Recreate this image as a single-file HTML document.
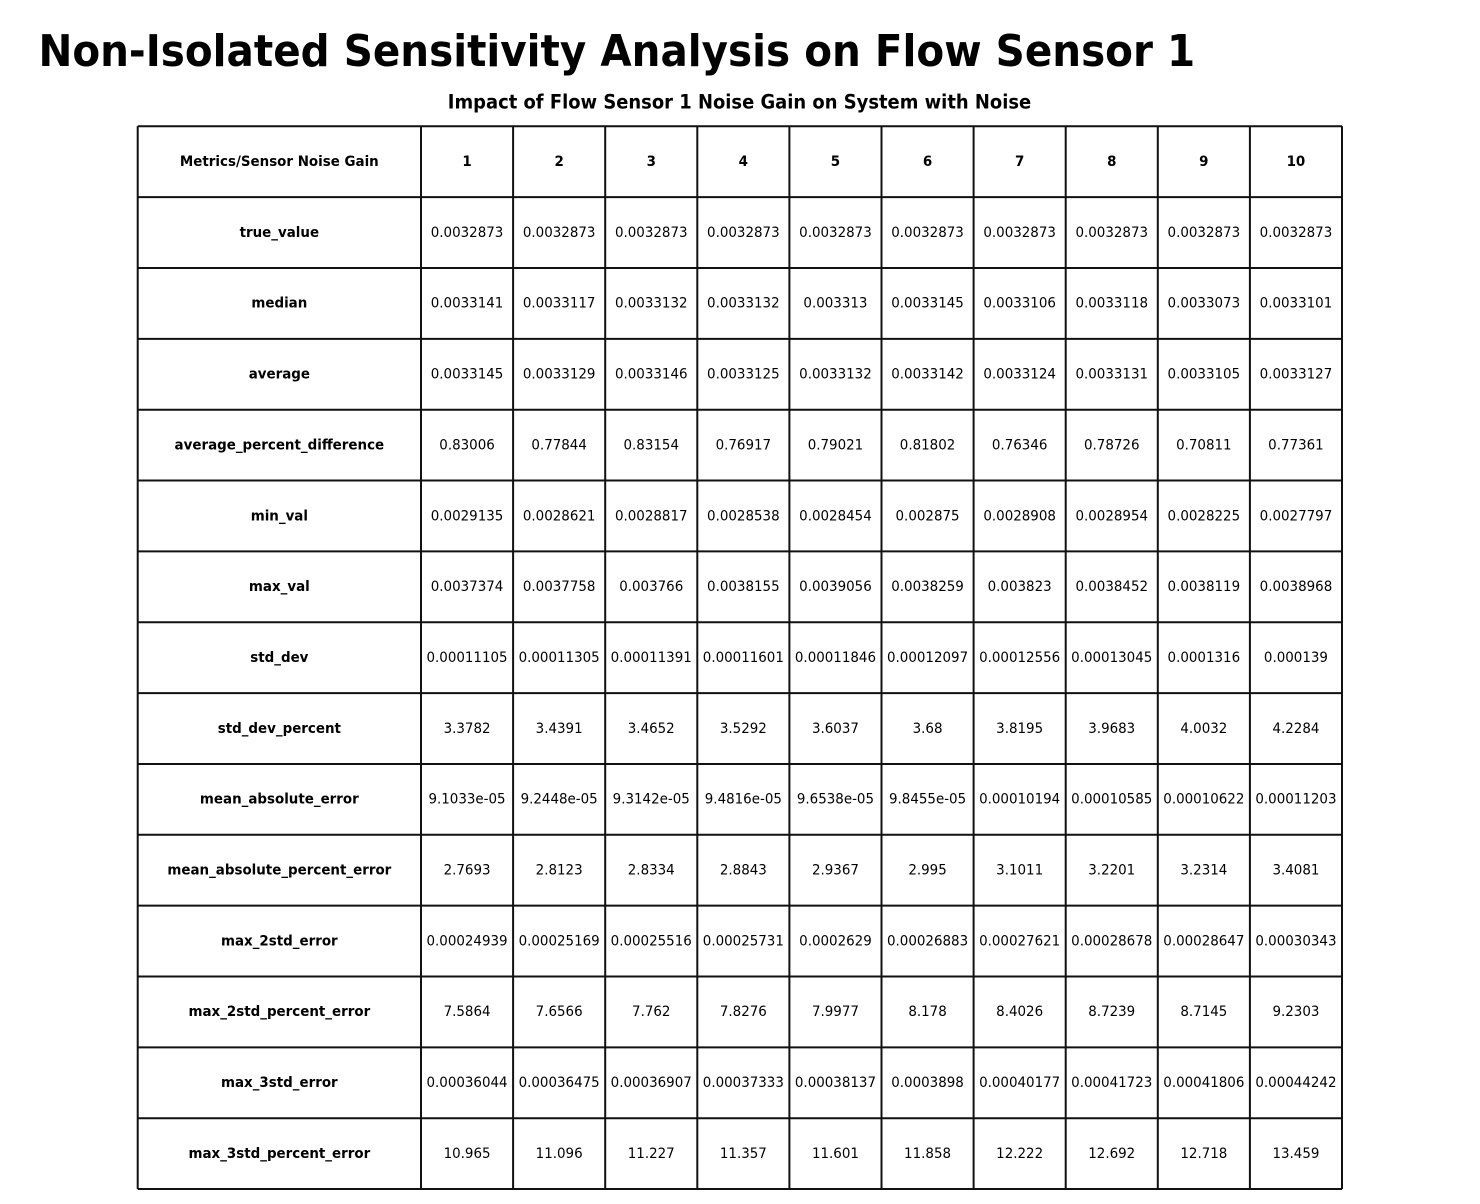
<!DOCTYPE html>
<html>
<head>
<meta charset="utf-8">
<style>
html,body{margin:0;padding:0;background:#fff;}
svg{display:block;}
text{font-family:"DejaVu Sans","Liberation Sans",sans-serif;fill:#000;}
.t{font-size:44px;font-weight:bold;}
.s{font-size:19.5px;font-weight:bold;text-anchor:middle;}
.c text{font-size:14.6px;text-anchor:middle;}
.b text{font-weight:bold;}
text.b{font-weight:bold;}
</style>
</head>
<body>
<svg width="1480" height="1204" viewBox="0 0 1480 1204" xmlns="http://www.w3.org/2000/svg">
<rect width="1480" height="1204" fill="#fff"/>
<g stroke="#111" stroke-width="2" fill="none">
<line x1="137.7" y1="126.3" x2="1342" y2="126.3"/>
<line x1="137.7" y1="197.15" x2="1342" y2="197.15"/>
<line x1="137.7" y1="268" x2="1342" y2="268"/>
<line x1="137.7" y1="338.85" x2="1342" y2="338.85"/>
<line x1="137.7" y1="409.7" x2="1342" y2="409.7"/>
<line x1="137.7" y1="480.55" x2="1342" y2="480.55"/>
<line x1="137.7" y1="551.4" x2="1342" y2="551.4"/>
<line x1="137.7" y1="622.25" x2="1342" y2="622.25"/>
<line x1="137.7" y1="693.1" x2="1342" y2="693.1"/>
<line x1="137.7" y1="763.95" x2="1342" y2="763.95"/>
<line x1="137.7" y1="834.8" x2="1342" y2="834.8"/>
<line x1="137.7" y1="905.65" x2="1342" y2="905.65"/>
<line x1="137.7" y1="976.5" x2="1342" y2="976.5"/>
<line x1="137.7" y1="1047.35" x2="1342" y2="1047.35"/>
<line x1="137.7" y1="1118.2" x2="1342" y2="1118.2"/>
<line x1="137.7" y1="1189.05" x2="1342" y2="1189.05"/>
<line x1="137.7" y1="126.3" x2="137.7" y2="1189.05"/>
<line x1="421" y1="126.3" x2="421" y2="1189.05"/>
<line x1="513.1" y1="126.3" x2="513.1" y2="1189.05"/>
<line x1="605.2" y1="126.3" x2="605.2" y2="1189.05"/>
<line x1="697.3" y1="126.3" x2="697.3" y2="1189.05"/>
<line x1="789.4" y1="126.3" x2="789.4" y2="1189.05"/>
<line x1="881.5" y1="126.3" x2="881.5" y2="1189.05"/>
<line x1="973.6" y1="126.3" x2="973.6" y2="1189.05"/>
<line x1="1065.7" y1="126.3" x2="1065.7" y2="1189.05"/>
<line x1="1157.8" y1="126.3" x2="1157.8" y2="1189.05"/>
<line x1="1249.9" y1="126.3" x2="1249.9" y2="1189.05"/>
<line x1="1342" y1="126.3" x2="1342" y2="1189.05"/>
</g>
<g transform="scale(0.92 1)">
<text class="t" x="41.8" y="66">Non-Isolated Sensitivity Analysis on Flow Sensor 1</text>
<text class="s" x="803.8" y="108.5">Impact of Flow Sensor 1 Noise Gain on System with Noise</text>

<g class="c b" transform="translate(0 166)">
<text x="303.64" y="0">Metrics/Sensor Noise Gain</text>
<text x="507.66" y="0">1</text><text x="607.77" y="0">2</text><text x="707.88" y="0">3</text><text x="807.99" y="0">4</text><text x="908.10" y="0">5</text><text x="1008.21" y="0">6</text><text x="1108.32" y="0">7</text><text x="1208.42" y="0">8</text><text x="1308.53" y="0">9</text><text x="1408.64" y="0">10</text>
</g>

<g class="c" transform="translate(0 236.9)">
<text class="b" x="303.64" y="0">true_value</text>
<text x="507.66" y="0">0.0032873</text><text x="607.77" y="0">0.0032873</text><text x="707.88" y="0">0.0032873</text><text x="807.99" y="0">0.0032873</text><text x="908.10" y="0">0.0032873</text><text x="1008.21" y="0">0.0032873</text><text x="1108.32" y="0">0.0032873</text><text x="1208.42" y="0">0.0032873</text><text x="1308.53" y="0">0.0032873</text><text x="1408.64" y="0">0.0032873</text>
</g>

<g class="c" transform="translate(0 307.7)">
<text class="b" x="303.64" y="0">median</text>
<text x="507.66" y="0">0.0033141</text><text x="607.77" y="0">0.0033117</text><text x="707.88" y="0">0.0033132</text><text x="807.99" y="0">0.0033132</text><text x="908.10" y="0">0.003313</text><text x="1008.21" y="0">0.0033145</text><text x="1108.32" y="0">0.0033106</text><text x="1208.42" y="0">0.0033118</text><text x="1308.53" y="0">0.0033073</text><text x="1408.64" y="0">0.0033101</text>
</g>

<g class="c" transform="translate(0 378.6)">
<text class="b" x="303.64" y="0">average</text>
<text x="507.66" y="0">0.0033145</text><text x="607.77" y="0">0.0033129</text><text x="707.88" y="0">0.0033146</text><text x="807.99" y="0">0.0033125</text><text x="908.10" y="0">0.0033132</text><text x="1008.21" y="0">0.0033142</text><text x="1108.32" y="0">0.0033124</text><text x="1208.42" y="0">0.0033131</text><text x="1308.53" y="0">0.0033105</text><text x="1408.64" y="0">0.0033127</text>
</g>

<g class="c" transform="translate(0 449.4)">
<text class="b" x="303.64" y="0">average_percent_difference</text>
<text x="507.66" y="0">0.83006</text><text x="607.77" y="0">0.77844</text><text x="707.88" y="0">0.83154</text><text x="807.99" y="0">0.76917</text><text x="908.10" y="0">0.79021</text><text x="1008.21" y="0">0.81802</text><text x="1108.32" y="0">0.76346</text><text x="1208.42" y="0">0.78726</text><text x="1308.53" y="0">0.70811</text><text x="1408.64" y="0">0.77361</text>
</g>

<g class="c" transform="translate(0 520.3)">
<text class="b" x="303.64" y="0">min_val</text>
<text x="507.66" y="0">0.0029135</text><text x="607.77" y="0">0.0028621</text><text x="707.88" y="0">0.0028817</text><text x="807.99" y="0">0.0028538</text><text x="908.10" y="0">0.0028454</text><text x="1008.21" y="0">0.002875</text><text x="1108.32" y="0">0.0028908</text><text x="1208.42" y="0">0.0028954</text><text x="1308.53" y="0">0.0028225</text><text x="1408.64" y="0">0.0027797</text>
</g>

<g class="c" transform="translate(0 591.1)">
<text class="b" x="303.64" y="0">max_val</text>
<text x="507.66" y="0">0.0037374</text><text x="607.77" y="0">0.0037758</text><text x="707.88" y="0">0.003766</text><text x="807.99" y="0">0.0038155</text><text x="908.10" y="0">0.0039056</text><text x="1008.21" y="0">0.0038259</text><text x="1108.32" y="0">0.003823</text><text x="1208.42" y="0">0.0038452</text><text x="1308.53" y="0">0.0038119</text><text x="1408.64" y="0">0.0038968</text>
</g>

<g class="c" transform="translate(0 662)">
<text class="b" x="303.64" y="0">std_dev</text>
<text x="507.66" y="0">0.00011105</text><text x="607.77" y="0">0.00011305</text><text x="707.88" y="0">0.00011391</text><text x="807.99" y="0">0.00011601</text><text x="908.10" y="0">0.00011846</text><text x="1008.21" y="0">0.00012097</text><text x="1108.32" y="0">0.00012556</text><text x="1208.42" y="0">0.00013045</text><text x="1308.53" y="0">0.0001316</text><text x="1408.64" y="0">0.000139</text>
</g>

<g class="c" transform="translate(0 732.8)">
<text class="b" x="303.64" y="0">std_dev_percent</text>
<text x="507.66" y="0">3.3782</text><text x="607.77" y="0">3.4391</text><text x="707.88" y="0">3.4652</text><text x="807.99" y="0">3.5292</text><text x="908.10" y="0">3.6037</text><text x="1008.21" y="0">3.68</text><text x="1108.32" y="0">3.8195</text><text x="1208.42" y="0">3.9683</text><text x="1308.53" y="0">4.0032</text><text x="1408.64" y="0">4.2284</text>
</g>

<g class="c" transform="translate(0 803.7)">
<text class="b" x="303.64" y="0">mean_absolute_error</text>
<text x="507.66" y="0">9.1033e-05</text><text x="607.77" y="0">9.2448e-05</text><text x="707.88" y="0">9.3142e-05</text><text x="807.99" y="0">9.4816e-05</text><text x="908.10" y="0">9.6538e-05</text><text x="1008.21" y="0">9.8455e-05</text><text x="1108.32" y="0">0.00010194</text><text x="1208.42" y="0">0.00010585</text><text x="1308.53" y="0">0.00010622</text><text x="1408.64" y="0">0.00011203</text>
</g>

<g class="c" transform="translate(0 874.5)">
<text class="b" x="303.64" y="0">mean_absolute_percent_error</text>
<text x="507.66" y="0">2.7693</text><text x="607.77" y="0">2.8123</text><text x="707.88" y="0">2.8334</text><text x="807.99" y="0">2.8843</text><text x="908.10" y="0">2.9367</text><text x="1008.21" y="0">2.995</text><text x="1108.32" y="0">3.1011</text><text x="1208.42" y="0">3.2201</text><text x="1308.53" y="0">3.2314</text><text x="1408.64" y="0">3.4081</text>
</g>

<g class="c" transform="translate(0 945.4)">
<text class="b" x="303.64" y="0">max_2std_error</text>
<text x="507.66" y="0">0.00024939</text><text x="607.77" y="0">0.00025169</text><text x="707.88" y="0">0.00025516</text><text x="807.99" y="0">0.00025731</text><text x="908.10" y="0">0.0002629</text><text x="1008.21" y="0">0.00026883</text><text x="1108.32" y="0">0.00027621</text><text x="1208.42" y="0">0.00028678</text><text x="1308.53" y="0">0.00028647</text><text x="1408.64" y="0">0.00030343</text>
</g>

<g class="c" transform="translate(0 1016.2)">
<text class="b" x="303.64" y="0">max_2std_percent_error</text>
<text x="507.66" y="0">7.5864</text><text x="607.77" y="0">7.6566</text><text x="707.88" y="0">7.762</text><text x="807.99" y="0">7.8276</text><text x="908.10" y="0">7.9977</text><text x="1008.21" y="0">8.178</text><text x="1108.32" y="0">8.4026</text><text x="1208.42" y="0">8.7239</text><text x="1308.53" y="0">8.7145</text><text x="1408.64" y="0">9.2303</text>
</g>

<g class="c" transform="translate(0 1087.1)">
<text class="b" x="303.64" y="0">max_3std_error</text>
<text x="507.66" y="0">0.00036044</text><text x="607.77" y="0">0.00036475</text><text x="707.88" y="0">0.00036907</text><text x="807.99" y="0">0.00037333</text><text x="908.10" y="0">0.00038137</text><text x="1008.21" y="0">0.0003898</text><text x="1108.32" y="0">0.00040177</text><text x="1208.42" y="0">0.00041723</text><text x="1308.53" y="0">0.00041806</text><text x="1408.64" y="0">0.00044242</text>
</g>

<g class="c" transform="translate(0 1157.9)">
<text class="b" x="303.64" y="0">max_3std_percent_error</text>
<text x="507.66" y="0">10.965</text><text x="607.77" y="0">11.096</text><text x="707.88" y="0">11.227</text><text x="807.99" y="0">11.357</text><text x="908.10" y="0">11.601</text><text x="1008.21" y="0">11.858</text><text x="1108.32" y="0">12.222</text><text x="1208.42" y="0">12.692</text><text x="1308.53" y="0">12.718</text><text x="1408.64" y="0">13.459</text>
</g>
</g>
</svg>
</body>
</html>
